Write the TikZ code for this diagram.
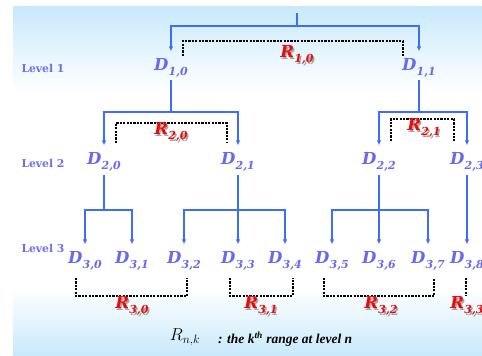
\documentclass[tikz,border=0pt]{standalone}
\usepackage{fontspec}
\newfontfamily\timesf{Liberation Serif}
\newfontfamily\dejaf{DejaVu Serif}
\usetikzlibrary{arrows.meta}
\definecolor{bgblue}{RGB}{200,233,251}
\definecolor{dcol}{RGB}{105,105,240}
\definecolor{levcol}{RGB}{110,110,240}
\definecolor{lcol}{RGB}{60,110,250}
\definecolor{rcol}{RGB}{235,10,10}
\definecolor{shcol}{RGB}{165,165,165}
\newcommand\lbl[2]{#1\kern0.3pt\raisebox{-5pt}{\fontsize{11}{11}\selectfont #2}}
\begin{document}
\begin{tikzpicture}[x=1pt,y=-1pt,
  dlab/.style={inner sep=0pt, text=dcol, font=\dejaf\fontsize{16.5}{16.5}\selectfont\bfseries\itshape},
  rlab/.style={inner sep=0pt, text=rcol, font=\dejaf\fontsize{16.5}{16.5}\selectfont\bfseries\itshape},
  rshadow/.style={inner sep=0pt, text=shcol, font=\dejaf\fontsize{16.5}{16.5}\selectfont\bfseries\itshape},
  levlab/.style={inner sep=0pt, text=levcol, font=\dejaf\fontsize{10.8}{10.8}\selectfont\bfseries},
  conn/.style={draw=lcol, line width=2pt},
  arr/.style={conn, -{Latex[length=5pt,width=4.5pt]}, shorten >=7pt},
  rbracket/.style={draw=black, line width=2.5pt, dash pattern=on 2.2pt off 1.2pt}]
\clip (0,0) rectangle (482,356);
\fill[white] (0,0) rectangle (482,356);
\shade[top color=bgblue, bottom color=white] (13,6) rectangle (482,92);
\shade[top color=white, bottom color=bgblue] (13,288) rectangle (482,356);

% level labels
\node[levlab] (lev1) at (43,68) {Level 1};
\node[levlab] (lev2) at (43,163) {Level 2};
\node[levlab] (lev3) at (43,248) {Level 3};

% D nodes
\node[dlab] (d10) at (171,68) {\lbl{D}{1,0}};
\node[dlab] (d11) at (419,68) {\lbl{D}{1,1}};
\node[dlab] (d20) at (104,162) {\lbl{D}{2,0}};
\node[dlab] (d21) at (238,162) {\lbl{D}{2,1}};
\node[dlab] (d22) at (379,162) {\lbl{D}{2,2}};
\node[dlab] (d23) at (467,162) {\lbl{D}{2,3}};
\node[dlab] (d30) at (85,261) {\lbl{D}{3,0}};
\node[dlab] (d31) at (132,261) {\lbl{D}{3,1}};
\node[dlab] (d32) at (184,261) {\lbl{D}{3,2}};
\node[dlab] (d33) at (238,261) {\lbl{D}{3,3}};
\node[dlab] (d34) at (285,261) {\lbl{D}{3,4}};
\node[dlab] (d35) at (332,261) {\lbl{D}{3,5}};
\node[dlab] (d36) at (379,261) {\lbl{D}{3,6}};
\node[dlab] (d37) at (428,261) {\lbl{D}{3,7}};
\node[dlab] (d38) at (467,261) {\lbl{D}{3,8}};

% split points
\coordinate (top) at (297,13);
\coordinate (s0) at (297,26);
\coordinate (s10) at (171,112);
\coordinate (s11) at (419,112);
\coordinate (s20) at (104,210);
\coordinate (s21) at (238,210);
\coordinate (s22) at (379,210);

% connectors
\draw[conn] (top) -- (s0);
\draw[arr] (s0) -| (d10.north);
\draw[arr] (s0) -| (d11.north);
\draw[conn, shorten <=2pt] (d10.south) -- (s10);
\draw[conn, shorten <=2pt] (d11.south) -- (s11);
\draw[arr] (s10) -| (d20.north);
\draw[arr] (s10) -| (d21.north);
\draw[arr] (s11) -| (d22.north);
\draw[arr] (s11) -| (d23.north);
\draw[conn, shorten <=3pt] (d20.south) -- (s20);
\draw[conn, shorten <=3pt] (d21.south) -- (s21);
\draw[conn, shorten <=3pt] (d22.south) -- (s22);
\draw[arr, shorten <=3pt] (d23.south) -- (d38.north);
\draw[arr] (s20) -| (d30.north);
\draw[arr] (s20) -| (d31.north);
\draw[arr] (s21) -| (d32.north);
\draw[arr] (s21) -- (d33.north);
\draw[arr] (s21) -| (d34.north);
\draw[arr] (s22) -| (d35.north);
\draw[arr] (s22) -- (d36.north);
\draw[arr] (s22) -| (d37.north);

% range brackets
\draw[rbracket] (183,56) -- (183,41) -- (403,41) -- (403,56);
\draw[rbracket] (116,143) -- (116,123) -- (227,123) -- (227,143);
\draw[rbracket] (391,141) -- (391,119) -- (454,119) -- (454,141);
\draw[rbracket] (76,278) -- (76,296) -- (187,296) -- (187,278);
\draw[rbracket] (230,278) -- (230,296) -- (293,296) -- (293,278);
\draw[rbracket] (324,278) -- (324,296) -- (434,296) -- (434,278);
\draw[rbracket] (466,278) -- (466,296);

% range labels with shadow
\foreach \n/\x/\y/\s in {r10/297/55/{1,0}, r20/171/132/{2,0}, r21/424/128/{2,1},
                         r30/132/306/{3,0}, r31/261/306/{3,1}, r32/381/306/{3,2}, r33/467/306/{3,3}}{
  \node[rshadow] (\n s) at (\x+1.5,\y+1.5) {\lbl{R}{\s}};
  \node[rlab] (\n) at (\x,\y) {\lbl{R}{\s}};
}

% legend
\node[inner sep=0pt, font=\fontsize{17}{17}\selectfont] (rnk) at (185,337) {$R_{n,k}$};
\node[inner sep=0pt, anchor=west, font=\timesf\fontsize{13.5}{13.5}\selectfont\bfseries\itshape] (legend) at (218,339)
  {: the k\textsuperscript{th} range at level n};
\end{tikzpicture}
\end{document}
